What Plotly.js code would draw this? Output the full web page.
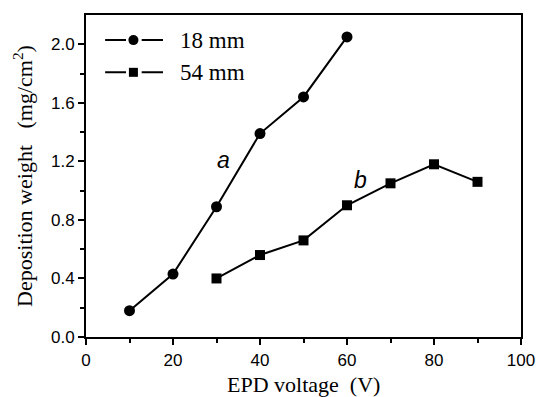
<!DOCTYPE html>
<html>
<head>
<meta charset="utf-8">
<script src="https://cdn.plot.ly/plotly-3.0.1.min.js"></script>
<style>html,body{margin:0;padding:0;background:#fff;}#chart{width:536px;height:397px;}</style>
</head>
<body>
<div id="chart"></div>
<script>
var voltageA = [10, 20, 30, 40, 50, 60];
var weightA = [0.18, 0.43, 0.89, 1.39, 1.64, 2.05];
var voltageB = [30, 40, 50, 60, 70, 80, 90];
var weightB = [0.40, 0.56, 0.66, 0.90, 1.05, 1.18, 1.06];
var seriesNames = ['18 mm', '54 mm'];
var curveLabels = ['a', 'b'];
var xTitle = 'EPD voltage&nbsp; (V)';
var yTitle = 'Deposition weight&nbsp;&nbsp; (mg/cm<sup>2</sup>)';

var traces = [
  {x: voltageA, y: weightA, name: seriesNames[0], mode: 'lines+markers', type: 'scatter',
   line: {color: '#000', width: 2}, marker: {symbol: 'circle', size: 11, color: '#000'}},
  {x: voltageB, y: weightB, name: seriesNames[1], mode: 'lines+markers', type: 'scatter',
   line: {color: '#000', width: 2}, marker: {symbol: 'square', size: 10, color: '#000'}}
];

var serif = 'Liberation Serif, Times New Roman, serif';
var sans = 'Liberation Sans, Arial, sans-serif';

// custom legend (line - marker - line) in paper coordinates
var legRows = [0.922, 0.822];
var legShapes = [];
var legSymbols = ['circle', 'rect'];
legRows.forEach(function (yy, i) {
  legShapes.push({type: 'line', xref: 'paper', yref: 'paper', x0: 0.044, x1: 0.177, y0: yy, y1: yy,
                  line: {color: '#000', width: 2}});
  legShapes.push({type: 'line', xref: 'paper', yref: 'paper', x0: 0.092, x1: 0.128, y0: yy, y1: yy,
                  line: {color: '#fff', width: 4}});
  var r = i === 0 ? 5 : 4.5;
  legShapes.push({type: legSymbols[i], xref: 'paper', yref: 'paper', xsizemode: 'pixel', ysizemode: 'pixel',
                  xanchor: 0.109, yanchor: yy, x0: -r, x1: r, y0: -r, y1: r,
                  fillcolor: '#000', line: {color: '#000', width: 0}});
});
var legTexts = legRows.map(function (yy, i) {
  return {xref: 'paper', yref: 'paper', x: 0.2115, y: yy, xanchor: 'left', yanchor: 'middle',
          text: seriesNames[i], showarrow: false, font: {family: serif, size: 23, color: '#000'}};
});

var layout = {
  width: 536, height: 397,
  margin: {l: 86, r: 15, t: 15, b: 60},
  paper_bgcolor: '#fff', plot_bgcolor: '#fff',
  showlegend: false,
  xaxis: {
    range: [0, 100], tickvals: [0, 20, 40, 60, 80, 100], ticks: 'outside', ticklen: 6, tickwidth: 2,
    tickcolor: '#000', showline: true, linewidth: 2, linecolor: '#000', mirror: true, ticklabelstandoff: 1,
    showgrid: false, zeroline: false, tickfont: {family: sans, size: 17, color: '#000'},
    minor: {tickvals: [10, 30, 50, 70, 90], ticks: 'outside', ticklen: 4, tickwidth: 2, tickcolor: '#000'}
  },
  yaxis: {
    range: [0, 2.2], tickvals: [0, 0.4, 0.8, 1.2, 1.6, 2.0], ticktext: ['0.0', '0.4', '0.8', '1.2', '1.6', '2.0'],
    ticks: 'outside', ticklen: 6, tickwidth: 2,
    tickcolor: '#000', showline: true, linewidth: 2, linecolor: '#000', mirror: true,
    showgrid: false, zeroline: false, tickfont: {family: sans, size: 17, color: '#000'},
    minor: {tickvals: [0.2, 0.6, 1.0, 1.4, 1.8], ticks: 'outside', ticklen: 4, tickwidth: 2, tickcolor: '#000'},
    title: {text: yTitle, font: {family: serif, size: 22, color: '#000'}, standoff: 12}
  },
  shapes: legShapes,
  annotations: [
    {x: 31.5, y: 1.21, xref: 'x', yref: 'y', text: curveLabels[0], showarrow: false,
     font: {family: sans, size: 23, color: '#000', style: 'italic'}},
    {x: 63, y: 1.07, xref: 'x', yref: 'y', text: curveLabels[1], showarrow: false,
     font: {family: sans, size: 23, color: '#000', style: 'italic'}},
    {x: 0.5, y: -0.148, xref: 'paper', yref: 'paper', xanchor: 'center', yanchor: 'middle',
     text: xTitle, showarrow: false, font: {family: serif, size: 22, color: '#000'}}
  ].concat(legTexts)
};

Plotly.newPlot('chart', traces, layout, {displayModeBar: false, staticPlot: true});
</script>
</body>
</html>
